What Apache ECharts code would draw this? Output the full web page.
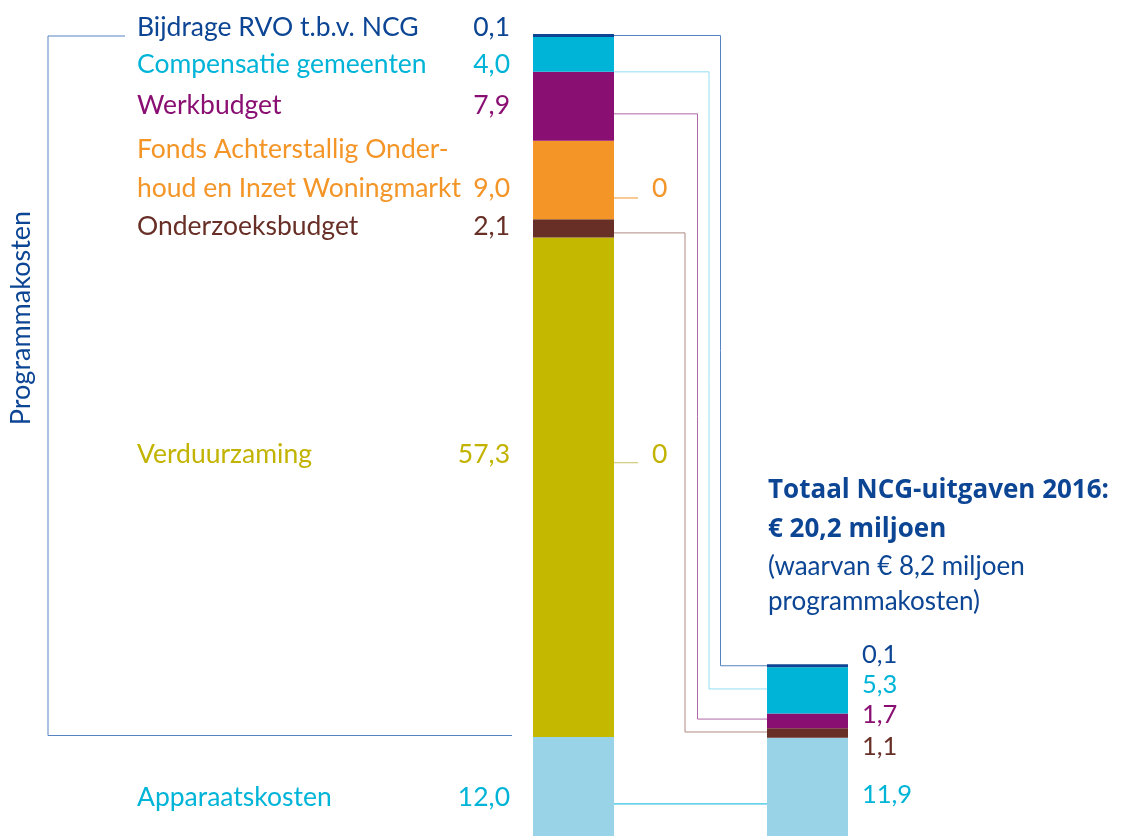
<!DOCTYPE html>
<html>
<head>
<meta charset="utf-8">
<script src="https://cdn.jsdelivr.net/npm/echarts@6/dist/echarts.min.js"></script>
<style>html,body{margin:0;padding:0;background:#fff}#m1{width:1121px;height:836px}</style>
</head>
<body>
<div id="m1"></div>
<script>
// data, stacked from bottom to top
var categories=['Begroting','Uitgaven 2016'];
var names=['Apparaatskosten','Verduurzaming','Onderzoeksbudget','Fonds Achterstallig Onderhoud en Inzet Woningmarkt','Werkbudget','Compensatie gemeenten','Bijdrage RVO t.b.v. NCG'];
var nameLabels=['Apparaatskosten','Verduurzaming','Onderzoeksbudget','Fonds Achterstallig Onder-\nhoud en Inzet Woningmarkt','Werkbudget','Compensatie gemeenten','Bijdrage RVO t.b.v. NCG'];
var budget=[12.0,57.3,2.1,9.0,7.9,4.0,0.1];
var spent=[11.9,0,1.1,0,1.7,5.3,0.1];
var titleLines=['Totaal NCG-uitgaven 2016:','€ 20,2 miljoen','(waarvan € 8,2 miljoen','programmakosten)'];
var sideLabel='Programmakosten';

// styles
var colors=['#98d3e8','#c4b800','#682f27','#f39527','#8a0f72','#00b4d8','#0c4594'];
var textColors=['#00b4d8','#c2b300','#682f27','#f39527','#8a0f72','#00b4d8','#0c4594'];
var lineColors=['#00b4d8','#c9c060','#b08a82','#f39527','#b067a6','#93def2','#5683c2'];
var FONT='Lato';
var leftBase=[806,463,235,197,114,72.7,35.7];    // text baselines, left labels
var rightBase=[803,null,755,null,723,693,663];  // text baselines, right labels
var anchorL=[0.36,0.549,0.25,0.27,0.39,0,1.7];  // where the connector leaves a segment
var anchorR=[0.362,0,0.61,0,0.62,0.53,1.7];
var elbow=[0,0,71,0,83.5,95,106.5];

function fmt(v){return v.toFixed(1).replace('.',',');}

var chart=echarts.init(document.getElementById('m1'));
var series=names.map(function(n,i){
  return {name:n,type:'bar',stack:'total',barWidth:81,barMinHeight:i===6?3:0,silent:true,
    itemStyle:{color:colors[i]},data:[budget[i],spent[i]]};
});
chart.setOption({
  animation:false,
  grid:{left:456.5,right:196.5,top:30,bottom:0},
  xAxis:{type:'category',data:categories,show:false},
  yAxis:{type:'value',min:0.64,max:93.1,show:false},
  series:series
});

function px(c,v){return chart.convertToPixel({gridIndex:0},[categories[c],v]);}
var half=40.5;
var g=[];
var bL=0,bR=0;
var fs=26.5, fsR=25.5;
for(var i=0;i<names.length;i++){
  var pL=px(0,bL+anchorL[i]*budget[i]);
  var xL=pL[0]+half;
  // left name + value
  var lines=nameLabels[i].split('\n');
  for(var k=0;k<lines.length;k++){
    var by=leftBase[i]-(lines.length-1-k)*39;
    g.push({type:'text',x:137,y:by-8.5,style:{text:lines[k],fill:textColors[i],font:fs+'px '+FONT,textAlign:'left',textVerticalAlign:'middle'}});
  }
  g.push({type:'text',x:510,y:leftBase[i]-8.5,style:{text:fmt(budget[i]),fill:textColors[i],font:fs+'px '+FONT,textAlign:'right',textVerticalAlign:'middle'}});
  if(spent[i]>0){
    var pR=px(1,bR+anchorR[i]*spent[i]);
    var xR=pR[0]-half;
    var yR=(i===0)?pL[1]:pR[1];
    var pts=(i===0)?[[xL,pL[1]],[xR,yR]]:[[xL,pL[1]],[xL+elbow[i],pL[1]],[xL+elbow[i],yR],[xR,yR]];
    g.push({type:'polyline',shape:{points:pts},style:{stroke:lineColors[i],lineWidth:1,fill:null}});
    g.push({type:'text',x:xR+81+14,y:rightBase[i]-8,style:{text:fmt(spent[i]),fill:textColors[i],font:fsR+'px '+FONT,textAlign:'left',textVerticalAlign:'middle'}});
  }else{
    g.push({type:'line',shape:{x1:xL,y1:pL[1],x2:xL+24,y2:pL[1]},style:{stroke:lineColors[i],lineWidth:1}});
    g.push({type:'text',x:xL+38,y:leftBase[i]-8.5,style:{text:'0',fill:textColors[i],font:fs+'px '+FONT,textAlign:'left',textVerticalAlign:'middle'}});
  }
  bL+=budget[i];bR+=spent[i];
}
// bracket for programmakosten
g.push({type:'polyline',shape:{points:[[125,36],[48,36],[48,735.5],[512,735.5]]},style:{stroke:'#5683c2',lineWidth:1,fill:null}});
g.push({type:'text',x:21,y:318,rotation:Math.PI/2,style:{text:sideLabel,fill:'#0c4594',font:'27px '+FONT,textAlign:'center',textVerticalAlign:'middle'}});
// title
var tb=[499,538,575,610];
for(var t=0;t<titleLines.length;t++){
  g.push({type:'text',x:768,y:tb[t]-8.5,style:{text:titleLines[t],fill:'#0c4594',font:(t<2?'bold 26px "Open Sans"':'26px '+FONT),textAlign:'left',textVerticalAlign:'middle'}});
}
chart.setOption({graphic:g});
</script>
</body>
</html>
